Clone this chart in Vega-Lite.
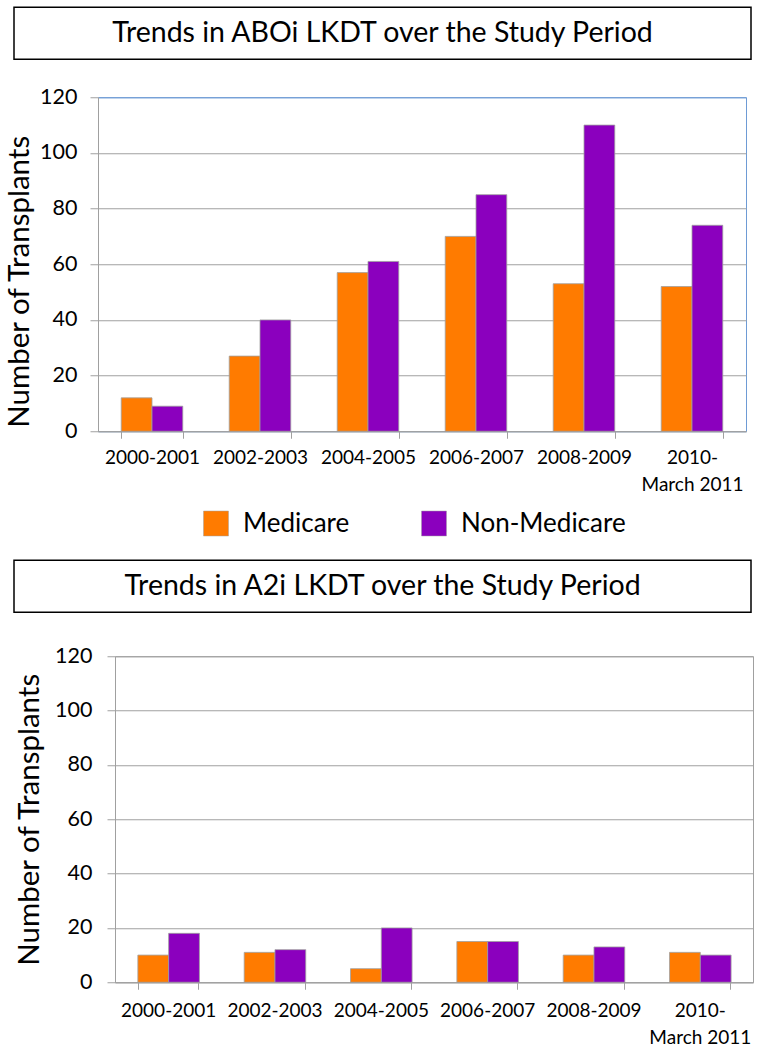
{
  "$schema": "https://vega.github.io/schema/vega-lite/v6.json",
  "padding": {"left": 0, "top": 6.25, "right": 0, "bottom": 0},
  "background": "white",
  "config": {"view": {"stroke": null}, "font": "Lato"},
  "datasets": {
    "abo": [
      {"period": "2000-2001", "group": "Medicare", "n": 12},
      {"period": "2000-2001", "group": "Non-Medicare", "n": 9},
      {"period": "2002-2003", "group": "Medicare", "n": 27},
      {"period": "2002-2003", "group": "Non-Medicare", "n": 40},
      {"period": "2004-2005", "group": "Medicare", "n": 57},
      {"period": "2004-2005", "group": "Non-Medicare", "n": 61},
      {"period": "2006-2007", "group": "Medicare", "n": 70},
      {"period": "2006-2007", "group": "Non-Medicare", "n": 85},
      {"period": "2008-2009", "group": "Medicare", "n": 53},
      {"period": "2008-2009", "group": "Non-Medicare", "n": 110},
      {"period": "2010-March 2011", "group": "Medicare", "n": 52},
      {"period": "2010-March 2011", "group": "Non-Medicare", "n": 74}
    ],
    "a2": [
      {"period": "2000-2001", "group": "Medicare", "n": 10},
      {"period": "2000-2001", "group": "Non-Medicare", "n": 18},
      {"period": "2002-2003", "group": "Medicare", "n": 11},
      {"period": "2002-2003", "group": "Non-Medicare", "n": 12},
      {"period": "2004-2005", "group": "Medicare", "n": 5},
      {"period": "2004-2005", "group": "Non-Medicare", "n": 20},
      {"period": "2006-2007", "group": "Medicare", "n": 15},
      {"period": "2006-2007", "group": "Non-Medicare", "n": 15},
      {"period": "2008-2009", "group": "Medicare", "n": 10},
      {"period": "2008-2009", "group": "Non-Medicare", "n": 13},
      {"period": "2010-March 2011", "group": "Medicare", "n": 11},
      {"period": "2010-March 2011", "group": "Non-Medicare", "n": 10}
    ],
    "t1": [{"t": "Trends in ABOi LKDT over the Study Period"}],
    "t2": [{"t": "Trends in A2i LKDT over the Study Period"}],
    "blank": []
  },
  "spacing": 21,
  "resolve": {"scale": {"color": "independent", "x": "independent", "y": "independent"}, "legend": {"color": "independent"}},
  "vconcat": [
    {
      "spacing": 25,
      "resolve": {"scale": {"color": "independent", "x": "independent", "y": "independent"}, "legend": {"color": "independent"}},
      "vconcat": [
        {
          "bounds": "flush",
          "spacing": 0,
          "hconcat": [
            {"width": 14, "height": 1, "data": {"name": "blank"}, "mark": {"type": "text"}, "encoding": {"text": {"field": "b"}}},
            {
              "width": 737, "height": 52,
              "view": {"stroke": "black", "strokeWidth": 1.5},
              "data": {"name": "t1"},
              "mark": {"type": "text", "fontSize": 28.5, "font": "Lato", "color": "black"},
              "encoding": {"text": {"field": "t"}}
            }
          ]
        },
        {
          "bounds": "flush",
          "spacing": 0,
          "resolve": {"scale": {"color": "independent", "x": "independent", "y": "independent"}, "legend": {"color": "independent"}},
          "hconcat": [
            {"width": 98, "height": 1, "data": {"name": "blank"}, "mark": {"type": "text"}, "encoding": {"text": {"field": "b"}}},
            {
              "width": 648, "height": 334,
              "view": {"stroke": "#6E9BD5", "strokeWidth": 1},
              "data": {"name": "abo"},
              "mark": {"type": "bar", "stroke": "#A0A0A0", "strokeWidth": 0.8},
              "encoding": {
                "x": {
                  "field": "period", "type": "nominal", "sort": null,
                  "scale": {"paddingInner": 0.43, "paddingOuter": 0.215},
                  "axis": {
                    "title": null, "labelAngle": 0, "labelFontSize": 19, "labelColor": "black",
                    "labelPadding": 10, "tickSize": 7, "tickColor": "#A0A0A0", "tickBand": "extent",
                    "domainColor": "#A0A0A0", "grid": false, "labelBaseline": "top", "labelLineHeight": 27,
                    "labelExpr": "datum.value == '2010-March 2011' ? ['2010-', 'March 2011'] : datum.value"
                  }
                },
                "xOffset": {"field": "group", "sort": ["Medicare", "Non-Medicare"]},
                "y": {
                  "field": "n", "type": "quantitative", "scale": {"domain": [0, 120]},
                  "axis": {
                    "title": "Number of Transplants", "titleFontSize": 29.5, "titleFontWeight": "normal",
                    "titleColor": "black", "titlePadding": 5, "titleY": 184, "values": [0, 20, 40, 60, 80, 100, 120],
                    "labelFontSize": 21.5, "labelColor": "black", "labelPadding": 13, "tickSize": 8,
                    "tickColor": "#A0A0A0", "domainColor": "#A0A0A0", "grid": true,
                    "gridColor": {"condition": {"test": "datum.value == 120", "value": "#6E9BD5"}, "value": "#A0A0A0"}
                  }
                },
                "color": {
                  "field": "group", "type": "nominal",
                  "scale": {"domain": ["Medicare", "Non-Medicare"], "range": ["#FF7B00", "#8B00BE"]},
                  "legend": {
                    "title": null, "orient": "none", "legendX": 105, "legendY": 413, "direction": "horizontal",
                    "symbolType": "square", "symbolSize": 625, "symbolStrokeColor": "#A0A0A0",
                    "symbolStrokeWidth": 0.5, "symbolOpacity": 1, "labelFontSize": 26, "labelColor": "black",
                    "labelOffset": 14, "columnPadding": 70, "padding": 0, "labelLimit": 400
                  }
                }
              }
            }
          ]
        }
      ]
    },
    {
      "spacing": 31,
      "resolve": {"scale": {"color": "independent", "x": "independent", "y": "independent"}, "legend": {"color": "independent"}},
      "vconcat": [
        {
          "bounds": "flush",
          "spacing": 0,
          "hconcat": [
            {"width": 14, "height": 1, "data": {"name": "blank"}, "mark": {"type": "text"}, "encoding": {"text": {"field": "b"}}},
            {
              "width": 737, "height": 52,
              "view": {"stroke": "black", "strokeWidth": 1.5},
              "data": {"name": "t2"},
              "mark": {"type": "text", "fontSize": 28.5, "font": "Lato", "color": "black"},
              "encoding": {"text": {"field": "t"}}
            }
          ]
        },
        {
          "bounds": "flush",
          "spacing": 0,
          "resolve": {"scale": {"color": "independent", "x": "independent", "y": "independent"}, "legend": {"color": "independent"}},
          "hconcat": [
            {"width": 115, "height": 1, "data": {"name": "blank"}, "mark": {"type": "text"}, "encoding": {"text": {"field": "b"}}},
            {
              "width": 638, "height": 326,
              "view": {"stroke": "#A0A0A0", "strokeWidth": 1},
              "data": {"name": "a2"},
              "mark": {"type": "bar", "stroke": "#A0A0A0", "strokeWidth": 0.8},
              "encoding": {
                "x": {
                  "field": "period", "type": "nominal", "sort": null,
                  "scale": {"paddingInner": 0.43, "paddingOuter": 0.215},
                  "axis": {
                    "title": null, "labelAngle": 0, "labelFontSize": 19, "labelColor": "black",
                    "labelPadding": 12, "tickSize": 7, "tickColor": "#A0A0A0", "tickBand": "extent",
                    "domainColor": "#A0A0A0", "grid": false, "labelBaseline": "top", "labelLineHeight": 27,
                    "labelExpr": "datum.value == '2010-March 2011' ? ['2010-', 'March 2011'] : datum.value"
                  }
                },
                "xOffset": {"field": "group", "sort": ["Medicare", "Non-Medicare"]},
                "y": {
                  "field": "n", "type": "quantitative", "scale": {"domain": [0, 120]},
                  "axis": {
                    "title": "Number of Transplants", "titleFontSize": 29.5, "titleFontWeight": "normal",
                    "titleColor": "black", "titlePadding": 10, "values": [0, 20, 40, 60, 80, 100, 120],
                    "labelFontSize": 21.5, "labelColor": "black", "labelPadding": 15, "tickSize": 8,
                    "tickColor": "#A0A0A0", "domainColor": "#A0A0A0", "grid": true, "gridColor": "#A0A0A0"
                  }
                },
                "color": {
                  "field": "group", "type": "nominal",
                  "scale": {"domain": ["Medicare", "Non-Medicare"], "range": ["#FF7B00", "#8B00BE"]},
                  "legend": null
                }
              }
            }
          ]
        }
      ]
    }
  ]
}
